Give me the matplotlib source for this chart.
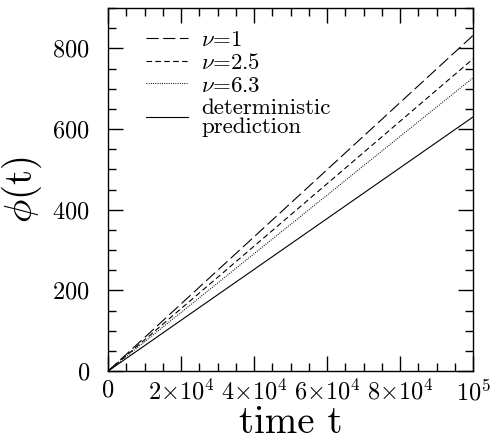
import matplotlib
matplotlib.use("Agg")
import matplotlib.pyplot as plt
from matplotlib.ticker import MultipleLocator, FixedLocator

plt.rcParams['font.family'] = ['cmr10', 'DejaVu Serif']
plt.rcParams['mathtext.fontset'] = 'cm'
plt.rcParams['axes.formatter.use_mathtext'] = True

# phase growth, straight lines from the origin up to t = 1e5
t = [0, 1e5]
phi_nu1 = [0, 832]
phi_nu25 = [0, 774]
phi_nu63 = [0, 727]
phi_det = [0, 630]

x_ticks = [0, 2e4, 4e4, 6e4, 8e4, 1e5]
x_labels = ['0', r'$2{\times}10^4$', r'$4{\times}10^4$', r'$6{\times}10^4$',
            r'$8{\times}10^4$', r'$10^5$']
y_ticks = [0, 200, 400, 600, 800]

fig = plt.figure(figsize=(4.92, 4.45), dpi=100)
ax = fig.add_axes([0.2195, 0.166, 0.742, 0.816])

lw = 0.8
ax.plot(t, phi_nu1, color='black', lw=lw, dashes=(11, 4), label=r'$\nu$=1')
ax.plot(t, phi_nu25, color='black', lw=lw, dashes=(5, 3), label=r'$\nu$=2.5')
ax.plot(t, phi_nu63, color='black', lw=lw, dashes=(0.8, 1.2), label=r'$\nu$=6.3')
ax.plot(t, phi_det, color='black', lw=lw, label='deterministic\nprediction')

ax.set_xlim(0, 1e5)
ax.set_ylim(0, 900)

ax.xaxis.set_major_locator(FixedLocator(x_ticks))
ax.set_xticklabels(x_labels)
ax.xaxis.set_minor_locator(MultipleLocator(5000))
ax.yaxis.set_major_locator(FixedLocator(y_ticks))
ax.yaxis.set_minor_locator(MultipleLocator(50))

ax.tick_params(which='both', direction='in', top=True, right=True,
               labelsize=17.5, width=1.0)
ax.tick_params(which='major', length=11)
ax.tick_params(axis='y', which='major', pad=13)
ax.tick_params(axis='x', which='major', pad=6)
ax.tick_params(which='minor', length=6)
for s in ax.spines.values():
    s.set_linewidth(1.0)

ax.set_xlabel('time t', fontsize=28, labelpad=0)
ax.set_ylabel(r'$\phi$(t)', fontsize=28, labelpad=6)

leg = ax.legend(loc='upper left', bbox_to_anchor=(0.08, 0.965), frameon=False,
                fontsize=16.5, handlelength=1.8, handletextpad=0.6,
                labelspacing=0.12, borderaxespad=0.0)
for txt in leg.get_texts():
    txt.set_linespacing(0.95)

fig.savefig('out.png', dpi=100)
